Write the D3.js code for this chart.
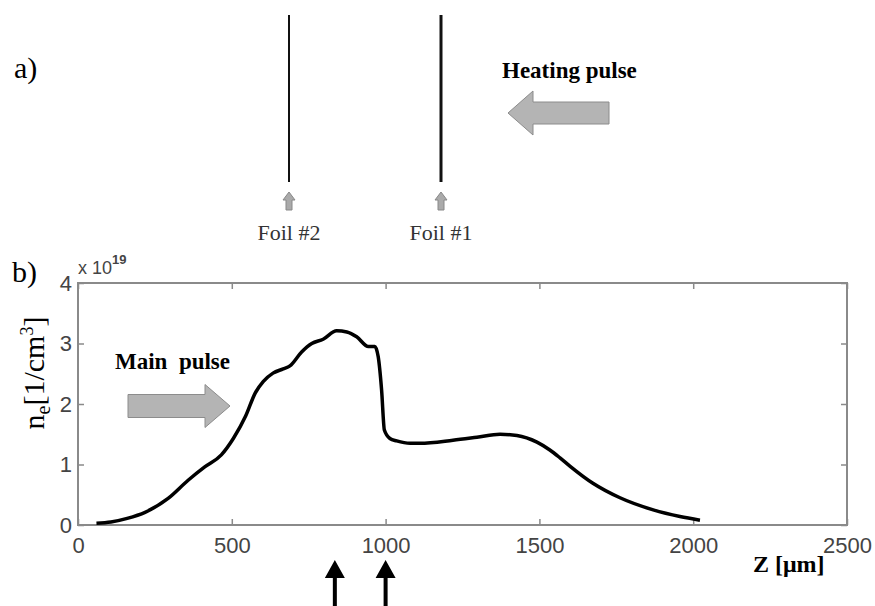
<!DOCTYPE html>
<html>
<head>
<meta charset="utf-8">
<script src="https://cdn.jsdelivr.net/npm/d3@7"></script>
<style>
  body { margin: 0; background: #fff; }
  svg { display: block; }
</style>
</head>
<body>
<div class="module"></div>
<script>
// density profile n_e (units of 1e19 cm^-3) vs Z (um)
const zValues = [60, 107, 160, 218, 293, 358, 412, 466, 505, 545, 576, 602, 634, 667, 689, 727, 760, 797, 841, 874, 906, 944, 965, 976, 987, 996, 1014, 1036, 1080, 1112, 1219, 1297, 1372, 1427, 1492, 1534, 1567, 1600, 1674, 1762, 1870, 1957, 2022];
const neValues = [0.03, 0.05, 0.11, 0.21, 0.44, 0.74, 0.96, 1.16, 1.43, 1.80, 2.18, 2.37, 2.51, 2.58, 2.63, 2.86, 3.00, 3.07, 3.21, 3.19, 3.11, 2.95, 2.95, 2.78, 2.23, 1.57, 1.43, 1.39, 1.35, 1.35, 1.40, 1.45, 1.50, 1.48, 1.37, 1.24, 1.11, 0.97, 0.69, 0.45, 0.25, 0.14, 0.08];
const xTicks = [0, 500, 1000, 1500, 2000, 2500];
const yTicks = [0, 1, 2, 3, 4];
const markerZ = [835, 1000];            // black arrows under the axis
const foils = ['Foil #2', 'Foil #1'];   // schematic of panel a)

const data = zValues.map((z, i) => ({z: z, n: neValues[i]}));

drawFigure(d3.select('.module').node(), data);

function drawFigure(rootDOM, data) {
	const W = 875;
	const H = 606;
	const serif = '"Liberation Serif", "Times New Roman", serif';
	const sans = '"Liberation Sans", Arial, sans-serif';
	const axisGray = '#8a8a8a';

	const svg = d3.select(rootDOM)
		.append('svg')
		.attr('width', W)
		.attr('height', H);

	// helper: arrow polygon pointing right (rotate it for other directions)
	function arrowPath(len, headLen, shaftW, headW) {
		const p = d3.path();
		p.moveTo(0, -shaftW / 2);
		p.lineTo(len - headLen, -shaftW / 2);
		p.lineTo(len - headLen, -headW / 2);
		p.lineTo(len, 0);
		p.lineTo(len - headLen, headW / 2);
		p.lineTo(len - headLen, shaftW / 2);
		p.lineTo(0, shaftW / 2);
		p.closePath();
		return p.toString();
	}

	// ---------- panel a) ----------
	const a = svg.append('g');
	a.append('text')
		.attr('x', 14).attr('y', 78)
		.style('font-family', serif).style('font-size', '30px')
		.text('a)');

	const foilX = d3.scalePoint().domain(foils).range([289, 441]);

	const foil = a.selectAll('.foil')
		.data(foils)
		.enter().append('g')
		.attr('class', 'foil')
		.attr('transform', d => `translate(${foilX(d)},0)`);

	foil.append('line')
		.attr('y1', 15).attr('y2', 182)
		.style('stroke', '#111')
		.style('stroke-width', (d, i) => i === 0 ? 2 : 3);

	foil.append('path')
		.attr('d', arrowPath(18, 8, 6, 12))
		.attr('transform', 'translate(0,210) rotate(-90)')
		.style('fill', '#aaa')
		.style('stroke', '#888')
		.style('stroke-width', 1);

	foil.append('text')
		.attr('y', 240)
		.attr('text-anchor', 'middle')
		.style('font-family', serif).style('font-size', '22px')
		.style('fill', '#333')
		.text(d => d);

	a.append('text')
		.attr('x', 502).attr('y', 78)
		.style('font-family', serif).style('font-size', '23px')
		.style('font-weight', 'bold')
		.text('Heating pulse');

	a.append('path')
		.attr('d', arrowPath(101, 25, 22, 44))
		.attr('transform', 'translate(609,113) rotate(180)')
		.style('fill', '#b4b4b4')
		.style('stroke', '#8c8c8c')
		.style('stroke-width', 1);

	// ---------- panel b) ----------
	const x = d3.scaleLinear().domain([0, 2500]).range([78, 847]);
	const y = d3.scaleLinear().domain([0, 4]).range([525, 283]);

	const b = svg.append('g');

	b.append('text')
		.attr('x', 12).attr('y', 282)
		.style('font-family', serif).style('font-size', '30px')
		.text('b)');

	// frame
	b.append('rect')
		.attr('x', x(0)).attr('y', y(4))
		.attr('width', x(2500) - x(0)).attr('height', y(0) - y(4))
		.style('fill', 'none')
		.style('stroke', axisGray)
		.style('stroke-width', 2);

	const noDomain = s => s.select('.domain').remove();
	const fmt = d3.format('d');

	b.append('g')
		.attr('transform', `translate(0,${y(0)})`)
		.call(d3.axisBottom(x).tickValues(xTicks).tickFormat(fmt).tickSizeInner(-6).tickSizeOuter(0).tickPadding(12))
		.call(noDomain)
		.call(g => g.selectAll('line').style('stroke', axisGray).style('stroke-width', 1.5))
		.call(g => g.selectAll('text')
			.style('font-family', sans).style('font-size', '22px').style('fill', '#444'));

	b.append('g')
		.attr('transform', `translate(0,${y(4)})`)
		.call(d3.axisTop(x).tickValues(xTicks).tickSizeInner(-6).tickSizeOuter(0).tickFormat(''))
		.call(noDomain)
		.call(g => g.selectAll('line').style('stroke', axisGray).style('stroke-width', 1.5));

	b.append('g')
		.attr('transform', `translate(${x(0)},0)`)
		.call(d3.axisLeft(y).tickValues(yTicks).tickFormat(fmt).tickSizeInner(-6).tickSizeOuter(0).tickPadding(6))
		.call(noDomain)
		.call(g => g.selectAll('line').style('stroke', axisGray).style('stroke-width', 1.5))
		.call(g => g.selectAll('text')
			.style('font-family', sans).style('font-size', '22px').style('fill', '#444'));

	b.append('g')
		.attr('transform', `translate(${x(2500)},0)`)
		.call(d3.axisRight(y).tickValues(yTicks).tickSizeInner(-6).tickSizeOuter(0).tickFormat(''))
		.call(noDomain)
		.call(g => g.selectAll('line').style('stroke', axisGray).style('stroke-width', 1.5));

	// exponent
	const ex = b.append('text')
		.attr('x', x(0)).attr('y', 274)
		.style('font-family', sans).style('font-size', '18px').style('fill', '#444');
	ex.append('tspan').text('x 10');
	ex.append('tspan').attr('dy', -10).style('font-size', '13px').style('font-weight', 'bold').text('19');

	// y label
	const yl = b.append('text')
		.attr('transform', 'translate(44,373) rotate(-90)')
		.attr('text-anchor', 'middle')
		.style('font-family', serif).style('font-size', '30px');
	yl.append('tspan').text('n');
	yl.append('tspan').attr('dy', 6).style('font-size', '20px').text('e');
	yl.append('tspan').attr('dy', -6).text('[1/cm');
	yl.append('tspan').attr('dy', -11).style('font-size', '18px').text('3');
	yl.append('tspan').attr('dy', 11).text(']');

	// x label
	b.append('text')
		.attr('x', 753).attr('y', 572)
		.style('font-family', serif).style('font-size', '24px')
		.style('font-weight', 'bold')
		.text('Z [\u03bcm]');

	// main pulse
	b.append('text')
		.attr('x', 115).attr('y', 369)
		.style('font-family', serif).style('font-size', '23px')
		.style('font-weight', 'bold')
		.style('white-space', 'pre')
		.text('Main  pulse');

	b.append('path')
		.attr('d', arrowPath(102, 25, 23, 43))
		.attr('transform', 'translate(128,406)')
		.style('fill', '#b4b4b4')
		.style('stroke', '#8c8c8c')
		.style('stroke-width', 1);

	// curve
	const line = d3.line()
		.x(d => x(d.z))
		.y(d => y(d.n))
		.curve(d3.curveMonotoneX);

	b.append('path')
		.datum(data)
		.attr('d', line)
		.style('fill', 'none')
		.style('stroke', '#000')
		.style('stroke-width', 3.5)
		.style('stroke-linejoin', 'round');

	// black marker arrows under the axis
	b.selectAll('.marker')
		.data(markerZ)
		.enter().append('path')
		.attr('class', 'marker')
		.attr('d', arrowPath(50, 18, 4, 20))
		.attr('transform', d => `translate(${x(d)},610) rotate(-90)`)
		.style('fill', '#000');
}
</script>
</body>
</html>
